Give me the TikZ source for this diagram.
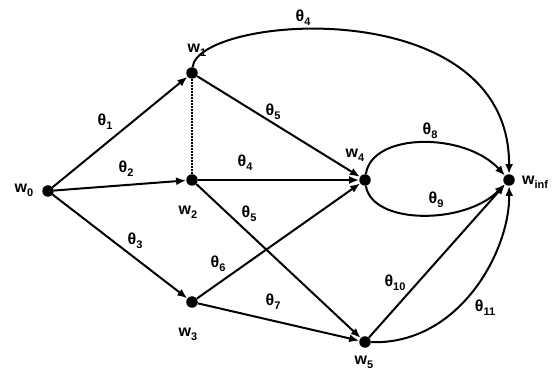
\documentclass[tikz,border=0pt]{standalone}
\usepackage{fontspec}
\setmainfont{Liberation Sans}
\usetikzlibrary{arrows.meta}
% symbol with a lowered, smaller index
\newcommand\idx[2]{#1\raisebox{-0.45ex}{\fontsize{11}{12}\selectfont #2}}
\begin{document}
\begin{tikzpicture}[x=1pt,y=-1pt,
  vertex/.style={circle,fill=black,inner sep=0pt,minimum size=11.5pt},
  lbl/.style={font=\fontsize{16}{17}\selectfont\bfseries,inner sep=0pt},
  edge/.style={line width=2pt,-{Latex[length=10pt,width=8pt]}},
  link/.style={line width=2pt,densely dotted}]
\useasboundingbox (0,0) rectangle (555,374);

% vertices
\node[vertex] (w0) at (48,191) {};
\node[vertex] (w1) at (192,73) {};
\node[vertex] (w2) at (192,180) {};
\node[vertex] (w3) at (192,302) {};
\node[vertex] (w4) at (365,180) {};
\node[vertex] (w5) at (365,342) {};
\node[vertex] (wi) at (509,180) {};

% vertex names
\node[lbl] (n0) at (24,190) {\idx{w}{0}};
\node[lbl] (n1) at (197,50) {\idx{w}{1}};
\node[lbl] (n2) at (188,212) {\idx{w}{2}};
\node[lbl] (n3) at (188,334) {\idx{w}{3}};
\node[lbl] (n4) at (355,155) {\idx{w}{4}};
\node[lbl] (n5) at (364,362) {\idx{w}{5}};
\node[lbl] (ni) at (535,182) {\idx{w}{inf}};

% edges
\draw[edge] (w0) -- (w1);
\draw[edge] (w0) -- (w2);
\draw[edge] (w0) -- (w3);
\draw[link] (w1) -- (w2);
\draw[edge] (w1) -- (w4);
\draw[edge] (w2) -- (w4);
\draw[edge] (w3) -- (w4);
\draw[edge] (w2) -- (w5);
\draw[edge] (w3) -- (w5);
\draw[edge] (w1) .. controls (198,15) and (510,-10) .. (wi);
\draw[edge] (w4) .. controls (372,132) and (465,132) .. (wi);
\draw[edge] (w4) .. controls (372,225) and (465,225) .. (wi);
\draw[edge] (w5) -- (wi);
\draw[edge] (w5) .. controls (460,345) and (510,250) .. (wi);

% weights
\node[lbl] (t4a) at (303,18) {\idx{θ}{4}};
\node[lbl] (t1) at (105,122) {\idx{θ}{1}};
\node[lbl] (t2) at (126,169) {\idx{θ}{2}};
\node[lbl] (t4b) at (245,163) {\idx{θ}{4}};
\node[lbl] (t5a) at (273,112) {\idx{θ}{5}};
\node[lbl] (t5b) at (249,214) {\idx{θ}{5}};
\node[lbl] (t3) at (135,241) {\idx{θ}{3}};
\node[lbl] (t6) at (218,264) {\idx{θ}{6}};
\node[lbl] (t7) at (273,302) {\idx{θ}{7}};
\node[lbl] (t8) at (430,131) {\idx{θ}{8}};
\node[lbl] (t9) at (436,200) {\idx{θ}{9}};
\node[lbl] (t10) at (395,283) {\idx{θ}{10}};
\node[lbl] (t11) at (485,308) {\idx{θ}{11}};
\end{tikzpicture}
\end{document}
